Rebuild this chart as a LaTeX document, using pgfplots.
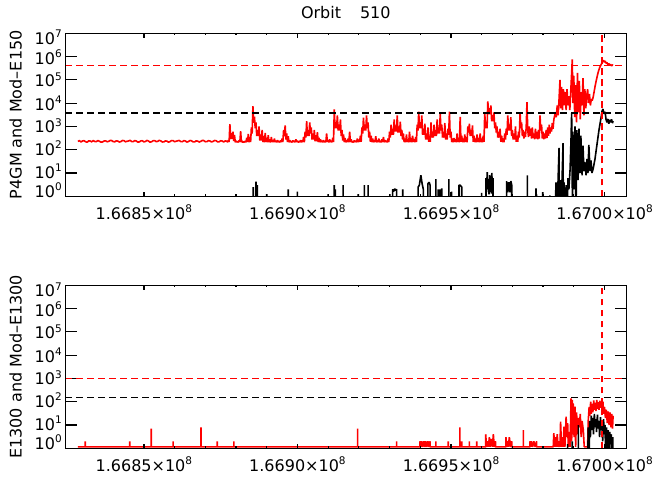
\documentclass[border=0pt]{standalone}
\usepackage{fontspec}
\setmainfont{DejaVu Sans}
\usepackage{pgfplots}
\pgfplotsset{compat=1.18}
\newcommand{\yl}[2]{\raisebox{#1}{10\raisebox{6.8pt}{\fontsize{10.5}{10.5}\selectfont #2}}}
\newcommand{\xl}[1]{#1×10\raisebox{7.5pt}{\fontsize{10.5}{10.5}\selectfont 8}}
\newcommand{\bigf}{\fontsize{16}{19}\selectfont}
\tikzset{dat/.style={line width=1.6pt, line join=bevel}, hdash/.style={line width=1.6pt, dash pattern=on 6.8pt off 4.2pt}}
\begin{document}
\begin{tikzpicture}
\useasboundingbox (0,0) rectangle (660pt,480pt);
% ---------------- top panel ----------------
\begin{axis}[at={(65.3pt,283.7pt)}, anchor=south west,
  scale only axis, width=561pt, height=163pt,
  xmin=2.44, xmax=20.71, ymode=log, ymin=1, ymax=1e7,
  axis line style={line width=1.2pt},
  every tick/.style={line width=1.2pt, black},
  xtick=\empty,
  ytick={1,10,100,1000,10000,100000,1000000,10000000},
  yticklabels={\yl{-1pt}{0},\yl{-5.5pt}{1},\yl{-6pt}{2},\yl{-6.5pt}{3},\yl{-7pt}{4},\yl{-7pt}{5},\yl{-7.5pt}{6},\yl{-11.5pt}{7}},
  yminorticks=false, major tick length=11.5pt,
  yticklabel style={anchor=base east, font=\bigf},
  ylabel style={at={(axis description cs:-0.0777,0.5)}, anchor=base, font=\bigf},
  ylabel={P4GM and Mod--E150},
  title={Orbit\hspace{19pt}510},
  title style={at={(axis description cs:0.5,1)}, anchor=base, yshift=8.3pt, font=\bigf}]
\addplot[dat, red] coordinates {
(2.85,228) (2.90,246) (2.95,215) (3.00,238) (3.05,245) (3.10,221) (3.15,210) (3.20,240) (3.25,236) (3.30,218)
(3.35,250) (3.40,226) (3.45,222) (3.50,247) (3.55,232) (3.60,212) (3.65,215) (3.70,236) (3.75,242) (3.80,220)
(3.85,228) (3.90,250) (3.95,248) (4.00,223) (4.05,219) (4.10,241) (4.15,235) (4.20,214) (4.25,224) (4.30,249)
(4.35,246) (4.40,219) (4.45,230) (4.50,238) (4.55,252) (4.60,225) (4.65,222) (4.70,247) (4.75,238) (4.80,213)
(4.85,216) (4.90,240) (4.95,243) (5.00,218) (5.05,226) (5.10,251) (5.15,236) (5.20,211) (5.25,220) (5.30,244)
(5.35,247) (5.40,222) (5.45,229) (5.50,253) (5.55,240) (5.60,215) (5.65,217) (5.70,239) (5.75,234) (5.80,212)
(5.85,223) (5.90,248) (5.95,246) (6.00,220) (6.05,231) (6.10,242) (6.15,250) (6.20,224) (6.25,221) (6.30,245)
(6.35,237) (6.40,213) (6.45,225) (6.50,249) (6.55,242) (6.60,217) (6.65,216) (6.70,240) (6.75,235) (6.80,214)
(6.85,228) (6.90,251) (6.95,248) (7.00,221) (7.05,222) (7.10,244) (7.15,239) (7.20,216) (7.25,227) (7.30,250)
(7.35,245) (7.40,218) (7.45,219) (7.50,243) (7.55,236) (7.60,215) (7.65,240)
(7.70,230) (7.725,212) (7.75,260) (7.775,215) (7.80,1260) (7.825,286) (7.85,520) (7.875,286) (7.90,600) (7.925,237)
(7.95,430) (7.975,210) (8.00,240) (8.025,214) (8.05,225) (8.075,208) (8.10,250) (8.125,216) (8.15,630) (8.175,211)
(8.20,240) (8.225,206) (8.25,220) (8.275,212) (8.30,235) (8.325,209) (8.35,330) (8.375,215) (8.40,480) (8.425,211)
(8.45,350) (8.475,213) (8.50,900) (8.525,495) (8.55,7400) (8.575,1430) (8.60,2600) (8.625,825) (8.65,1500) (8.675,385)
(8.70,700) (8.725,385) (8.75,1000) (8.775,248) (8.80,450) (8.825,248) (8.85,700) (8.875,214) (8.90,380) (8.925,209)
(8.95,520) (8.975,216) (9.00,330) (9.025,210) (9.05,420) (9.075,212) (9.10,280) (9.125,207) (9.15,350) (9.175,214)
(9.20,260) (9.225,210) (9.25,300) (9.275,213) (9.30,240) (9.325,208) (9.35,260) (9.375,215) (9.40,230) (9.425,209)
(9.45,250) (9.475,212) (9.50,300) (9.525,214) (9.55,700) (9.575,385) (9.60,1100) (9.625,275) (9.65,500) (9.675,212)
(9.70,380) (9.725,209) (9.75,260) (9.775,214) (9.80,230) (9.825,207) (9.85,250) (9.875,213) (9.90,240) (9.925,210)
(9.95,280) (9.975,215) (10.00,240) (10.025,208) (10.05,230) (10.075,212) (10.10,260) (10.125,209) (10.15,250) (10.175,214)
(10.20,350) (10.225,211) (10.25,600) (10.275,330) (10.30,1700) (10.325,385) (10.35,700) (10.375,385) (10.40,1500) (10.425,495)
(10.45,900) (10.475,275) (10.50,500) (10.525,275) (10.55,700) (10.575,231) (10.60,420) (10.625,231) (10.65,560) (10.675,212)
(10.70,330) (10.725,208) (10.75,280) (10.775,214) (10.80,240) (10.825,209) (10.85,260) (10.875,213) (10.90,230) (10.925,210)
(10.95,500) (10.975,215) (11.00,260) (11.025,208) (11.05,280) (11.075,212) (11.10,240) (11.125,209) (11.15,330) (11.175,214)
(11.20,5400) (11.225,825) (11.25,1500) (11.275,825) (11.30,3000) (11.325,660) (11.35,1200) (11.375,660) (11.40,2000) (11.425,385)
(11.45,700) (11.475,248) (11.50,450) (11.525,212) (11.55,320) (11.575,208) (11.60,260) (11.625,214) (11.65,300) (11.675,210)
(11.70,600) (11.725,213) (11.75,280) (11.775,209) (11.80,230) (11.825,207) (11.85,250) (11.875,214) (11.90,240) (11.925,210)
(11.95,300) (11.975,212) (12.00,270) (12.025,215) (12.05,400) (12.075,220) (12.10,900) (12.125,495) (12.15,2400) (12.175,660)
(12.20,1200) (12.225,660) (12.25,3000) (12.275,825) (12.30,1500) (12.325,330) (12.35,600) (12.375,220) (12.40,400) (12.425,212)
(12.45,300) (12.475,209) (12.50,260) (12.525,214) (12.55,380) (12.575,208) (12.60,250) (12.625,212) (12.65,300) (12.675,210)
(12.70,240) (12.725,207) (12.75,280) (12.775,213) (12.80,350) (12.825,209) (12.85,260) (12.875,214) (12.90,240) (12.925,208)
(12.95,300) (12.975,212) (13.00,600) (13.025,330) (13.05,1200) (13.075,440) (13.10,800) (13.125,440) (13.15,2000) (13.175,605)
(13.20,1100) (13.225,605) (13.25,3000) (13.275,550) (13.30,1000) (13.325,550) (13.35,1600) (13.375,385) (13.40,700) (13.425,275)
(13.45,500) (13.475,212) (13.50,300) (13.525,209) (13.55,450) (13.575,214) (13.60,280) (13.625,208) (13.65,600) (13.675,212)
(13.70,320) (13.725,210) (13.75,400) (13.775,214) (13.80,280) (13.825,209) (13.85,350) (13.875,213) (13.90,1200) (13.925,660)
(13.95,4300) (13.975,825) (14.00,1500) (14.025,825) (14.05,3000) (14.075,440) (14.10,800) (14.125,440) (14.15,1300) (14.175,275)
(14.20,500) (14.225,275) (14.25,900) (14.275,220) (14.30,400) (14.325,220) (14.35,1500) (14.375,330) (14.40,600) (14.425,330)
(14.45,1200) (14.475,385) (14.50,700) (14.525,385) (14.55,2000) (14.575,495) (14.60,900) (14.625,495) (14.65,3500) (14.675,660)
(14.70,1200) (14.725,330) (14.75,600) (14.775,330) (14.80,1400) (14.825,275) (14.85,500) (14.875,275) (14.90,800) (14.925,440)
(14.95,4300) (14.975,330) (15.00,600) (15.025,212) (15.05,300) (15.075,208) (15.10,320) (15.125,214) (15.15,280) (15.175,209)
(15.20,500) (15.225,213) (15.25,300) (15.275,210) (15.30,2600) (15.325,220) (15.35,400) (15.375,212) (15.40,300) (15.425,208)
(15.45,450) (15.475,214) (15.50,350) (15.525,210) (15.55,1000) (15.575,550) (15.60,1300) (15.625,385) (15.65,700) (15.675,385)
(15.70,1100) (15.725,220) (15.75,400) (15.775,212) (15.80,300) (15.825,209) (15.85,450) (15.875,214) (15.90,320) (15.925,208)
(15.95,500) (15.975,212) (16.00,300) (16.025,210) (16.05,400) (16.075,220) (16.10,4000) (16.125,825) (16.15,1500) (16.175,825)
(16.20,12000) (16.225,3300) (16.25,6000) (16.275,3300) (16.30,8000) (16.325,1650) (16.35,3000) (16.375,1650) (16.40,4000) (16.425,825)
(16.45,1500) (16.475,550) (16.50,1000) (16.525,330) (16.55,600) (16.575,330) (16.60,800) (16.625,220) (16.65,400) (16.675,212)
(16.70,300) (16.725,209) (16.75,500) (16.775,275) (16.80,800) (16.825,440) (16.85,3000) (16.875,660) (16.90,1200) (16.925,660)
(16.95,2500) (16.975,385) (17.00,700) (17.025,275) (17.05,500) (17.075,275) (17.10,1000) (17.125,220) (17.15,400) (17.175,220)
(17.20,600) (17.225,330) (17.25,4000) (17.275,825) (17.30,1500) (17.325,385) (17.35,700) (17.375,300) (17.40,600) (17.425,350)
(17.45,900) (17.475,11000) (17.50,700) (17.525,350) (17.55,1000) (17.575,400) (17.60,800) (17.625,300) (17.65,900) (17.675,320)
(17.70,500) (17.725,280) (17.75,800) (17.775,300) (17.80,600) (17.825,280) (17.85,700) (17.875,300) (17.90,3000) (17.925,660)
(17.95,1200) (17.975,300) (18.00,600) (18.025,280) (18.05,500) (18.075,300) (18.10,700) (18.125,320) (18.15,900) (18.175,400)
(18.20,1200) (18.225,500) (18.25,900) (18.275,600) (18.30,1400) (18.325,800)
(18.35,2000) (18.40,4000) (18.43,2500) (18.46,8000) (18.49,3000) (18.52,15000) (18.55,100000) (18.57,6000) (18.60,50000) (18.63,5000)
(18.66,40000) (18.69,8000) (18.72,30000) (18.75,5000) (18.78,40000) (18.81,8000) (18.84,20000) (18.87,5000) (18.90,30000) (18.93,200000)
(18.95,760000) (18.97,10000) (19.00,150000) (19.03,2500) (19.06,60000) (19.09,1500) (19.12,200000) (19.15,4000) (19.18,90000) (19.21,2000)
(19.24,30000) (19.27,8000) (19.30,120000) (19.33,3000) (19.36,40000) (19.39,6000) (19.42,20000) (19.45,40000) (19.48,10000) (19.51,25000)
(19.54,8000) (19.57,15000) (19.60,13000) (19.63,18000) (19.66,30000) (19.69,50000) (19.72,80000) (19.75,120000) (19.78,180000) (19.81,250000)
(19.84,330000) (19.87,400000) (19.90,480000) (19.93,600000) (19.96,700000) (19.99,580000) (20.02,650000) (20.05,520000) (20.08,550000) (20.11,450000)
(20.14,500000) (20.17,420000) (20.20,460000) (20.23,400000) (20.26,440000) (20.28,430000)
};
\addplot[dat, black] coordinates {
(8.56,0.1) (8.56,2.5) (8.56,0.1) (8.65,0.1) (8.65,4.3) (8.65,0.1) (8.69,0.1) (8.69,3) (8.69,0.1)
(9.00,0.1) (9.00,1.25) (9.00,0.1) (9.70,0.1) (9.70,2) (9.70,0.1) (10.00,0.1) (10.00,1.6) (10.00,0.1)
(11.00,0.1) (11.00,1.25) (11.00,0.1) (11.20,0.1) (11.20,3) (11.20,0.1) (11.23,0.1) (11.23,2) (11.23,0.1)
(11.49,0.1) (11.49,3) (11.49,0.1) (11.98,0.1) (11.98,1.25) (11.98,0.1) (12.18,0.1) (12.18,3) (12.18,0.1)
(12.30,0.1) (12.30,3) (12.30,0.1) (13.01,0.1) (13.01,1.25) (13.01,0.1) (13.10,0.1) (13.10,2) (13.13,1.6)
(13.17,2.1) (13.20,1.8) (13.23,2) (13.23,0.1) (13.43,0.1) (13.43,2) (13.43,0.1)
(13.93,0.1) (13.93,2.5) (13.97,3) (14.02,8) (14.06,3.5) (14.10,2) (14.10,0.1)
(14.25,0.1) (14.25,3.5) (14.29,4) (14.32,3) (14.32,0.1) (14.51,0.1) (14.51,5.4) (14.51,0.1)
(14.58,0.1) (14.58,2) (14.58,0.1) (14.64,0.1) (14.64,2) (14.64,0.1) (14.70,0.1) (14.70,2.2) (14.70,0.1)
(14.93,0.1) (14.93,5.4) (14.93,0.1) (15.02,0.1) (15.02,1.6) (15.02,0.1)
(15.26,0.1) (15.26,3) (15.30,3) (15.35,2.5) (15.35,0.1) (16.00,0.1) (16.00,1.4) (16.00,0.1)
(16.14,0.1) (16.14,6) (16.16,1.5) (16.18,11) (16.20,2) (16.22,5) (16.24,1.2) (16.26,8) (16.28,1.5) (16.30,4)
(16.32,1.3) (16.33,10) (16.35,2) (16.37,6) (16.37,0.1)
(16.81,0.1) (16.81,4.5) (16.85,1.5) (16.88,4) (16.92,1.5) (16.95,4.5) (16.98,3) (16.98,0.1)
(17.49,0.1) (17.49,8) (17.49,0.1) (17.79,0.1) (17.79,1.2) (17.79,0.1) (17.77,0.1) (17.77,2.2) (17.77,0.1)
(17.99,0.1) (17.99,1.5) (17.99,0.1) (18.22,0.1) (18.22,1.1) (18.22,0.1)
(18.39,0.1) (18.42,4) (18.45,0.1) (18.49,6) (18.52,120) (18.53,0.1) (18.55,5) (18.58,0.1) (18.62,7) (18.65,190)
(18.66,0.1) (18.68,4) (18.71,0.1) (18.75,3) (18.78,0.1) (18.81,6) (18.84,2) (18.88,15) (18.91,300) (18.93,3700)
(18.96,0.1) (18.97,600) (19.01,2) (19.04,1000) (19.07,0.1) (19.10,700) (19.14,5) (19.17,800) (19.20,10) (19.23,400)
(19.27,8) (19.30,150) (19.33,12) (19.36,30) (19.40,8) (19.43,40) (19.46,10) (19.49,160) (19.53,12) (19.56,35)
(19.59,10) (19.63,15) (19.69,40) (19.75,150) (19.82,700) (19.89,2500) (19.92,4500) (19.95,5600) (19.98,3500) (20.02,4200)
(20.05,2000) (20.08,1500) (20.11,2100) (20.14,1300) (20.17,1900) (20.20,1500) (20.23,2000) (20.26,1400) (20.28,1700)
};
\addplot[hdash, red] coordinates {(2.44,420000) (20.71,420000)};
\addplot[hdash, black] coordinates {(2.44,3700) (20.71,3700)};
\addplot[hdash, red] coordinates {(19.91,1) (19.91,10000000)};
\end{axis}
\begin{axis}[at={(65.3pt,283.7pt)}, anchor=south west,
  scale only axis, width=561pt, height=163pt,
  xmin=2.44, xmax=20.71, ymin=1, ymax=10,
  axis line style={line width=1.2pt},
  every tick/.style={line width=1.2pt, black},
  ytick=\empty, xtick={5,10,15,20},
  xticklabels={\xl{1.6685},\xl{1.6690},\xl{1.6695},\xl{1.6700}},
  minor x tick num=4, major tick length=4.3pt, minor tick length=2pt,
  xticklabel style={anchor=base, yshift=-23.5pt, font=\bigf}]
\addplot[draw=none] coordinates {(2.44,1) (20.71,10)};
\end{axis}
% ---------------- bottom panel ----------------
\begin{axis}[at={(65.3pt,31.7pt)}, anchor=south west,
  scale only axis, width=561pt, height=163pt,
  xmin=2.44, xmax=20.71, ymode=log, ymin=1, ymax=1e7,
  axis line style={line width=1.2pt},
  every tick/.style={line width=1.2pt, black},
  xtick=\empty,
  ytick={1,10,100,1000,10000,100000,1000000,10000000},
  yticklabels={\yl{-1pt}{0},\yl{-5.5pt}{1},\yl{-6pt}{2},\yl{-6.5pt}{3},\yl{-7pt}{4},\yl{-7pt}{5},\yl{-7.5pt}{6},\yl{-11.5pt}{7}},
  yminorticks=false, major tick length=11.5pt,
  yticklabel style={anchor=base east, font=\bigf},
  ylabel style={at={(axis description cs:-0.0777,0.5)}, anchor=base, font=\bigf},
  ylabel={E1300 and Mod--E1300}]
\addplot[dat, red] coordinates {
(2.85,1.15) (3.09,1.15) (3.09,2) (3.09,1.15) (4.54,1.15) (4.54,2) (4.54,1.15) (5.24,1.15) (5.24,7) (5.24,1.15)
(5.95,1.15) (5.95,2) (5.95,1.15) (6.86,1.15) (6.86,8) (6.86,1.15) (7.39,1.15) (7.39,2) (7.39,1.15)
(7.93,1.15) (7.93,2) (7.93,1.15) (11.96,1.15) (11.96,7) (11.96,1.15) (13.23,1.15) (13.23,2) (13.23,1.15)
(13.99,1.15) (13.99,2) (14.02,1.15) (14.05,2) (14.08,1.15) (14.12,2) (14.15,1.15) (14.18,2) (14.21,1.15) (14.25,2) (14.28,1.15) (14.32,2) (14.32,1.15)
(14.51,1.15) (14.51,2) (14.51,1.15) (14.91,1.15) (14.91,2) (14.91,1.15) (15.29,1.15) (15.29,8) (15.29,1.15)
(15.35,1.15) (15.35,2) (15.35,1.15) (15.60,1.15) (15.60,2) (15.60,1.15) (15.84,1.15) (15.84,2) (15.84,1.15)
(16.13,1.15) (16.13,4) (16.16,1.15) (16.20,2) (16.22,1.15) (16.25,3) (16.28,1.15) (16.32,2.5) (16.35,1.15) (16.38,4) (16.41,1.15) (16.45,2) (16.45,1.15)
(16.79,1.15) (16.79,3) (16.82,1.15) (16.85,2) (16.87,1.15) (16.90,3) (16.94,1.15) (16.98,2) (16.98,1.15)
(17.36,1.15) (17.36,6) (17.36,1.15) (17.57,1.15) (17.57,2) (17.60,1.15) (17.62,2) (17.66,1.15) (17.70,2) (17.74,1.15) (17.79,2) (17.79,1.15)
(18.33,1.15) (18.35,4.5) (18.37,1.15) (18.40,3) (18.43,1.15) (18.46,4) (18.49,1.15) (18.52,2) (18.55,1.15) (18.57,14)
(18.60,1.15) (18.63,3) (18.66,1.15) (18.68,8.5) (18.71,1.15) (18.75,23) (18.77,3) (18.80,12) (18.82,1.15) (18.85,5)
(18.88,1.15) (18.91,140) (18.93,2) (18.95,120) (18.97,4) (18.98,85) (19.01,3) (19.04,62) (19.06,1.15) (19.09,35)
(19.12,4) (19.15,20) (19.18,8) (19.21,30) (19.24,3) (19.27,15) (19.31,6) (19.34,1.15) (19.45,1.15)
(19.47,15) (19.50,60) (19.52,25) (19.55,100) (19.57,30) (19.60,80) (19.62,35) (19.65,115) (19.67,45) (19.70,90)
(19.72,40) (19.75,120) (19.77,50) (19.80,95) (19.82,45) (19.85,110) (19.87,55) (19.90,85) (19.92,40) (19.95,100)
(19.97,30) (20.00,60) (20.03,20) (20.06,45) (20.09,12) (20.12,38) (20.15,10) (20.18,35) (20.21,8) (20.24,30)
(20.26,7) (20.28,25)
};
\addplot[dat, black] coordinates {
(18.80,0.1) (18.80,1.5) (18.80,0.1) (18.95,0.1) (18.95,2) (18.95,0.1) (19.15,0.1) (19.15,10) (19.15,0.1)
(19.45,0.1) (19.47,8) (19.49,0.1) (19.52,15) (19.54,3) (19.57,25) (19.59,6) (19.62,20) (19.64,4) (19.67,30)
(19.69,8) (19.72,18) (19.74,5) (19.77,28) (19.79,7) (19.82,15) (19.84,3) (19.87,22) (19.89,6) (19.92,12)
(19.94,2) (19.97,18) (19.99,4) (20.02,10) (20.04,0.1) (20.07,8) (20.09,0.1) (20.12,6) (20.14,0.1) (20.17,5)
(20.19,1.5) (20.22,4) (20.24,0.1) (20.27,3) (20.28,0.1)
};
\addplot[hdash, red] coordinates {(2.44,1000) (20.71,1000)};
\addplot[hdash, black] coordinates {(2.44,155) (20.71,155)};
\addplot[hdash, red] coordinates {(19.91,1) (19.91,10000000)};
\end{axis}
\begin{axis}[at={(65.3pt,31.7pt)}, anchor=south west,
  scale only axis, width=561pt, height=163pt,
  xmin=2.44, xmax=20.71, ymin=1, ymax=10,
  axis line style={line width=1.2pt},
  every tick/.style={line width=1.2pt, black},
  ytick=\empty, xtick={5,10,15,20},
  xticklabels={\xl{1.6685},\xl{1.6690},\xl{1.6695},\xl{1.6700}},
  minor x tick num=4, major tick length=4.3pt, minor tick length=2pt,
  xticklabel style={anchor=base, yshift=-23.5pt, font=\bigf}]
\addplot[draw=none] coordinates {(2.44,1) (20.71,10)};
\end{axis}
\end{tikzpicture}
\end{document}
